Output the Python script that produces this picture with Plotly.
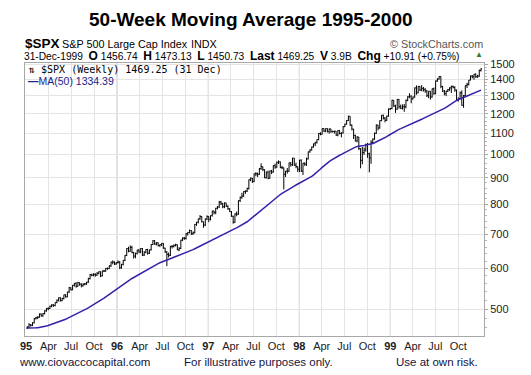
import pandas as pd
import plotly.graph_objects as go

# ---------------- data (weekly S&P 500, Jan 1995 - Dec 1999) ----------------
week_open = [
    # 1995
    459,461,466,465,470,479,481,482,489,485,490,496,501,501,506,509,508,515,520,526,519,524,533,528,540,550,
    545,556,561,554,563,559,555,559,560,564,573,583,582,584,582,587,591,580,593,593,600,600,607,617,617,612,
    # 1996
    616,617,602,611,622,636,656,648,659,644,634,641,651,646,656,637,645,653,642,652,668,679,669,673,665,667,
    671,657,646,639,636,662,662,665,667,652,656,681,687,686,701,705,711,701,704,731,738,749,757,740,729,749,
    # 1997
    757,748,760,776,771,786,790,808,802,791,805,793,784,774,758,738,766,765,813,825,830,847,848,858,893,899,
    887,917,917,915,939,947,934,901,924,899,929,924,951,945,965,967,944,942,915,928,928,963,955,984,953,947,
    # 1998
    936,975,928,962,958,980,1012,1020,1034,1049,1056,1069,1099,1095,1123,1110,1123,1108,1121,1108,1109,1110,1091,1114,1099,1101,
    1133,1146,1164,1187,1141,1121,1089,1063,1081,1027,974,1009,1020,1045,1003,985,1056,1071,1099,1141,1126,1164,1192,1177,1166,1188,
    # 1999
    1226,1229,1275,1243,1225,1280,1239,1230,1239,1238,1275,1295,1299,1283,1294,1348,1319,1357,1335,1345,1338,1330,1302,1328,1294,1343,
    1315,1391,1403,1419,1357,1329,1314,1328,1337,1348,1357,1352,1335,1277,1283,1318,1247,1302,1363,1370,1396,1422,1417,1433,1417,1421,1457,
]
week_high = [
    463,469,467,471,480,483,484,490,490,491,497,502,504,508,511,511,515,522,527,527,526,533,534,540,552,551,
    557,562,564,565,563,561,561,562,565,575,585,586,587,587,590,592,592,594,596,601,602,608,618,622,619,617,
    622,620,612,623,637,657,661,665,664,646,644,652,655,657,657,648,654,655,653,669,681,681,675,674,668,672,
    672,658,648,644,664,666,668,670,668,660,682,690,691,703,706,714,712,708,732,739,750,762,758,740,750,761,
    758,761,777,777,787,794,812,812,805,806,805,796,786,776,760,768,774,814,828,842,848,852,862,894,902,900,
    918,924,922,941,961,947,936,926,930,930,933,953,960,969,974,969,950,943,929,941,964,966,985,984,964,948,
    976,978,963,965,986,1013,1024,1036,1050,1058,1070,1101,1105,1124,1124,1125,1124,1124,1122,1113,1112,1110,1116,1114,1105,1136,
    1148,1167,1190,1187,1144,1121,1093,1086,1082,1029,1034,1032,1050,1053,1008,1066,1075,1104,1144,1142,1165,1193,1196,1183,1190,1229,
    1232,1278,1276,1250,1283,1282,1251,1252,1254,1280,1299,1316,1304,1296,1351,1363,1358,1359,1365,1354,1348,1336,1329,1328,1344,1350,
    1393,1408,1421,1419,1360,1335,1331,1342,1352,1362,1362,1358,1338,1292,1326,1333,1306,1363,1379,1397,1425,1428,1435,1439,1429,1463,1473,
]
week_low = [
    457,459,462,463,469,477,478,481,483,483,488,494,497,500,504,505,506,513,517,517,518,522,526,527,537,543,
    544,553,550,552,555,551,553,556,557,562,571,579,579,578,580,584,577,579,590,591,596,598,604,611,609,610,
    613,598,599,608,620,634,645,646,642,627,628,639,643,642,634,634,642,638,640,650,666,667,665,662,660,663,
    655,643,606,630,634,656,659,662,651,648,654,678,682,683,695,702,697,697,702,726,734,746,737,720,725,745,
    738,744,757,764,765,782,787,797,786,786,790,780,773,756,733,736,758,763,808,820,827,838,845,855,887,880,
    883,907,904,913,933,928,899,898,895,897,916,922,938,942,958,940,936,855,904,918,925,947,950,950,940,924,
    924,925,912,950,950,978,1008,1018,1031,1038,1050,1066,1090,1094,1106,1105,1104,1098,1102,1104,1099,1087,1085,1094,1080,1099,
    1131,1143,1162,1137,1114,1072,1060,1056,1020,940,957,998,1013,985,923,959,1052,1068,1097,1115,1123,1161,1170,1155,1162,1185,
    1221,1225,1238,1205,1222,1228,1226,1223,1211,1230,1270,1287,1258,1280,1290,1307,1316,1330,1328,1326,1319,1294,1287,1279,1290,1307,
    1310,1385,1399,1346,1324,1304,1299,1323,1330,1318,1345,1325,1270,1268,1279,1245,1233,1300,1347,1363,1394,1407,1398,1410,1410,1417,1451,
]
week_close = [
    461,466,465,470,479,481,482,489,485,490,496,501,501,506,509,508,515,520,526,519,524,533,528,540,550,545,
    556,561,554,563,559,555,559,560,564,573,583,582,584,582,587,591,580,593,593,600,600,607,617,617,612,616,
    617,602,611,622,636,656,648,659,644,634,641,651,646,656,637,645,653,642,652,668,679,669,673,665,667,671,
    657,646,639,636,662,662,665,667,652,656,681,687,686,701,705,711,701,704,731,738,749,757,740,729,749,757,
    748,760,776,771,786,790,808,802,791,805,793,784,774,758,738,766,765,813,825,830,847,848,858,893,899,887,
    917,917,915,939,947,934,901,924,899,929,924,951,945,965,967,944,942,915,928,928,963,955,984,953,947,936,
    975,928,962,958,980,1012,1020,1034,1049,1056,1069,1099,1095,1123,1110,1123,1108,1121,1108,1109,1110,1091,1114,1099,1101,1133,
    1146,1164,1187,1141,1121,1089,1063,1081,1027,974,1009,1020,1045,1003,985,1056,1071,1099,1141,1126,1164,1192,1177,1166,1188,1226,
    1229,1275,1243,1225,1280,1239,1230,1239,1238,1275,1295,1299,1283,1294,1348,1319,1357,1335,1345,1338,1330,1302,1328,1294,1343,1315,
    1391,1403,1419,1357,1329,1314,1328,1337,1348,1357,1352,1335,1277,1283,1318,1247,1302,1363,1370,1396,1422,1417,1433,1417,1421,1458,1469,
]
# last 49 weekly closes of 1994 (needed to start the 50-week average)
close_1994_tail = [
    478,469,470,467,464,465,466,470,464,446,447,446,448,451,451,445,456,454,457,458,
    459,443,444,448,453,454,459,459,461,464,469,475,468,470,462,460,455,469,465,463,
    472,462,465,452,453,446,455,462,459,
]
week_dates = pd.date_range("1995-01-06", "1999-12-31", freq="W-FRI")
ma50 = pd.Series(close_1994_tail + week_close).rolling(50).mean().iloc[49:].to_numpy()

y_ticks = [500, 600, 700, 800, 900, 1000, 1100, 1200, 1300, 1400, 1500]
x_tick_dates = [f"{y}-{m:02d}-01" for y in range(1995, 2000) for m in (1, 4, 7, 10)]
x_tick_text = [t for y in range(95, 100) for t in (f"<b>{y}</b>", "Apr", "Jul", "Oct")]
year_lines = [f"{y}-01-01" for y in range(1996, 2000)]

# ---------------- layout geometry ----------------
# The page body has an 8px margin, so the figure is drawn 8px smaller and all
# target positions (measured on the 531x375 picture) are offset by 8px.
OFF = 8
W, H = 531 - OFF, 375 - OFF
L, R, T, B = 25, 484, 63, 336          # plot area in picture pixels


def px(x):
    return (x - L) / (R - L)


def py(y):
    return (B - y) / (B - T)


FONT = "Liberation Sans, Arial, sans-serif"

fig = go.Figure()
fig.add_trace(go.Ohlc(
    x=week_dates, open=week_open, high=week_high, low=week_low, close=week_close,
    increasing=dict(line=dict(color="#000000", width=1)),
    decreasing=dict(line=dict(color="#000000", width=1)),
    tickwidth=0.5, hoverinfo="skip", showlegend=False,
))
fig.add_trace(go.Scatter(
    x=week_dates, y=ma50, mode="lines",
    line=dict(color="#3322a8", width=1.5), hoverinfo="skip", showlegend=False,
))

for d in year_lines:
    fig.add_shape(type="line", xref="x", yref="paper", x0=d, x1=d, y0=0, y1=1,
                  line=dict(color="#c4c4c4", width=1), layer="below")

ann = []


def text(x, y, s, size, anchor="left", color="#000000", family=FONT, pad=1):
    ann.append(dict(xref="paper", yref="paper", x=px(x), y=py(y), text=s, showarrow=False,
                    xanchor=anchor, yanchor="middle", borderpad=pad,
                    font=dict(size=size, color=color, family=family)))


def big(s):
    return f"<span style='font-size:12px'><b>{s}</b></span>"


text(250.5, 20, "<b>50-Week Moving Average 1995-2000</b>", 19, anchor="center", pad=0)
text(23, 43, "<b>$SPX</b>", 13.5)
text(60, 43.5, "S&P 500 Large Cap Index", 10.8)
text(189, 43.5, "INDX", 10.8)
text(485, 43.5, "© StockCharts.com", 10.8, anchor="right", color="#555555")

line2 = ("31-Dec-1999&nbsp;&nbsp;" + big("O") + " 1456.74&nbsp;&nbsp;" + big("H") + " 1473.13&nbsp;&nbsp;"
         + big("L") + " 1450.73&nbsp;&nbsp;" + big("Last") + " 1469.25&nbsp;&nbsp;" + big("V") + " 3.9B&nbsp;&nbsp;"
         + big("Chg") + " +10.91 (+0.75%)")
text(22, 55.5, line2, 10.2)
text(485, 54.5, "▲", 8, anchor="right", color="#2e7d32")

text(26, 69.5, "⇅ $SPX (Weekly) 1469.25 (31 Dec)", 10, family="DejaVu Sans Mono, monospace")
text(26, 80.5, "<b>—</b>MA(50) 1334.39", 10.5, color="#22228a")

text(17, 362, "www.ciovaccocapital.com", 11.5, color="#141440")
text(182, 362, "For illustrative purposes only.", 11.5, color="#141440")
text(394, 362, "Use at own risk.", 11.5, color="#141440")

minor_vals = [v for v in range(460, 1501, 20) if v % 100 != 0]

fig.update_layout(
    width=W, height=H, autosize=False,
    margin=dict(l=L - OFF, r=531 - R, t=T - OFF, b=375 - B, pad=0),
    paper_bgcolor="white", plot_bgcolor="white",
    showlegend=False, annotations=ann,
    xaxis=dict(
        type="date", range=["1994-12-28", "2000-01-12"], rangeslider=dict(visible=False),
        tickmode="array", tickvals=x_tick_dates, ticktext=x_tick_text,
        tickfont=dict(size=11, color="#222222", family=FONT),
        showgrid=True, gridcolor="#e4e4e4", gridwidth=1,
        showline=True, linecolor="#a8a8a8", linewidth=1, mirror=True,
        ticks="", zeroline=False,
    ),
    yaxis=dict(
        type="log", side="right", range=[2.6464, 3.1782],
        tickmode="array", tickvals=y_ticks, ticktext=[str(v) for v in y_ticks],
        tickfont=dict(size=11, color="#222222", family=FONT),
        showgrid=True, gridcolor="#e4e4e4", gridwidth=1,
        showline=True, linecolor="#a8a8a8", linewidth=1, mirror=True,
        ticks="outside", ticklen=3, tickcolor="#a8a8a8", zeroline=False,
        minor=dict(tickmode="array", tickvals=minor_vals, ticks="outside", ticklen=2,
                   tickcolor="#b8b8b8", showgrid=False),
    ),
)

fig.write_html("out.html")
